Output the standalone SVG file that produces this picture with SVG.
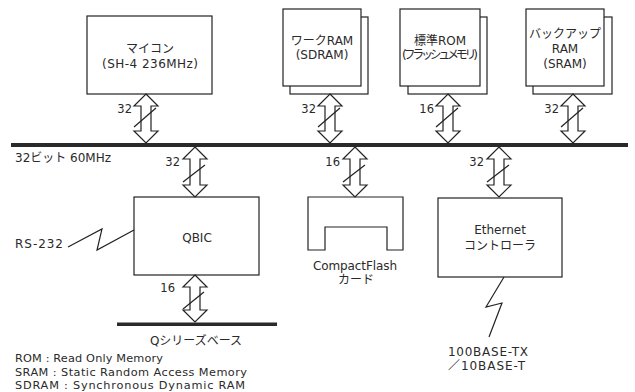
<svg xmlns="http://www.w3.org/2000/svg" width="635" height="392" viewBox="0 0 635 392">
<style>
.box{fill:#fff;stroke:#222;stroke-width:1.2}
.t{font-family:"DejaVu Sans","Noto Sans CJK JP",sans-serif;fill:#2a2a2a;font-size:12px}
.c{text-anchor:middle}
.n{font-family:"DejaVu Sans",sans-serif;fill:#2a2a2a;font-size:11.5px;text-anchor:end}
.ar{fill:#fff;stroke:#222;stroke-width:1.2;stroke-linejoin:miter}
.sl{stroke:#222;stroke-width:1.2;fill:none}
.bus{fill:#2a2a2a}
.lg{font-family:"DejaVu Sans","Noto Sans CJK JP",sans-serif;fill:#2a2a2a;font-size:11.3px}
</style>
<rect width="635" height="392" fill="#fff"/>
<g id="bus-main"><rect class="bus" x="11" y="143" width="617" height="4"/><text class="t" x="15" y="162" font-size="11.5">32ビット 60MHz</text></g>
<g id="bus-q"><rect class="bus" x="117" y="322.5" width="160" height="3.5"/><text class="t c" x="196" y="345" font-size="11.5">Qシリーズベース</text></g>
<g id="mcu"><rect class="box" x="87" y="16" width="125" height="78"/><text class="t c" x="150" y="53">マイコン</text><text class="t c" x="150" y="68" textLength="96">(SH-4 236MHz)</text></g>
<g id="workram"><rect class="box" x="290" y="17" width="78" height="77"/><rect class="box" x="283" y="9" width="78" height="77"/><text class="t c" x="322" y="45">ワークRAM</text><text class="t c" x="322" y="59">(SDRAM)</text></g>
<g id="rom"><rect class="box" x="408" y="17" width="79" height="77"/><rect class="box" x="400" y="9" width="80" height="77"/><text class="t c" x="440" y="45">標準ROM</text><text class="t c" x="440" y="59" font-size="10" textLength="76">(フラッシュメモリ)</text></g>
<g id="sram"><rect class="box" x="533" y="17" width="79" height="77"/><rect class="box" x="526" y="9" width="78" height="77"/><text class="t c" x="565" y="38">バックアップ</text><text class="t c" x="565" y="53">RAM</text><text class="t c" x="565" y="68">(SRAM)</text></g>
<g id="qbic"><rect class="box" x="134" y="197" width="125" height="78"/><text class="t c" x="197" y="242">QBIC</text></g>
<g id="cf"><path class="box" d="M308,197 H403 V250 H387 V227 H325 V250 H308 Z"/><text class="t c" x="355" y="270" textLength="84">CompactFlash</text><text class="t c" x="356" y="284">カード</text></g>
<g id="ether"><rect class="box" x="438" y="198" width="124" height="79"/><text class="t c" x="500" y="234">Ethernet</text><text class="t c" x="500" y="250">コントローラ</text></g>
<g id="rs232"><text class="t" x="15" y="248" textLength="48">RS-232</text></g>
<g id="lan"><text class="t" x="448" y="356" textLength="80">100BASE-TX</text><text class="t" x="448" y="370" textLength="77">／10BASE-T</text></g>
<g id="connectors">
<polygon class="ar" points="146,94 158,106 151,106 151,131 158,131 146,143 134,131 141,131 141,106 134,106"/><line class="sl" x1="134" y1="127" x2="156" y2="108"/><text class="n" x="132" y="113">32</text>
<polygon class="ar" points="330,94 342,106 335,106 335,131 342,131 330,143 318,131 325,131 325,106 318,106"/><line class="sl" x1="318" y1="127" x2="340" y2="108"/><text class="n" x="316" y="113">32</text>
<polygon class="ar" points="448,94 460,106 453,106 453,131 460,131 448,143 436,131 443,131 443,106 436,106"/><line class="sl" x1="436" y1="127" x2="458" y2="108"/><text class="n" x="434" y="113">16</text>
<polygon class="ar" points="573,94 585,106 578,106 578,131 585,131 573,143 561,131 568,131 568,106 561,106"/><line class="sl" x1="561" y1="127" x2="583" y2="108"/><text class="n" x="559" y="113">32</text>
<polygon class="ar" points="195,147 207,159 200,159 200,185 207,185 195,197 183,185 190,185 190,159 183,159"/><line class="sl" x1="183" y1="182" x2="205" y2="165"/><text class="n" x="180" y="166">32</text>
<polygon class="ar" points="355,147 367,159 360,159 360,185 367,185 355,197 343,185 350,185 350,159 343,159"/><line class="sl" x1="343" y1="182" x2="365" y2="165"/><text class="n" x="340" y="166">16</text>
<polygon class="ar" points="499,147 511,159 504,159 504,185 511,185 499,197 487,185 494,185 494,159 487,159"/><line class="sl" x1="487" y1="182" x2="509" y2="165"/><text class="n" x="484" y="166">32</text>
<polygon class="ar" points="195,275 207,287 200,287 200,310 207,310 195,322 183,310 190,310 190,287 183,287"/><line class="sl" x1="183" y1="309" x2="204" y2="292"/><text class="n" x="175" y="292">16</text>
<polyline class="sl" points="68,247 102,229 97,250 134,230"/>
<polyline class="sl" points="504,277 486,307 502,303 489,337"/>
</g>
<g id="legend">
<text class="lg" x="15" y="362" textLength="148">ROM : Read Only Memory</text>
<text class="lg" x="15" y="376" textLength="232">SRAM : Static Random Access Memory</text>
<text class="lg" x="15" y="389" textLength="230">SDRAM : Synchronous Dynamic RAM</text>
</g>
</svg>
